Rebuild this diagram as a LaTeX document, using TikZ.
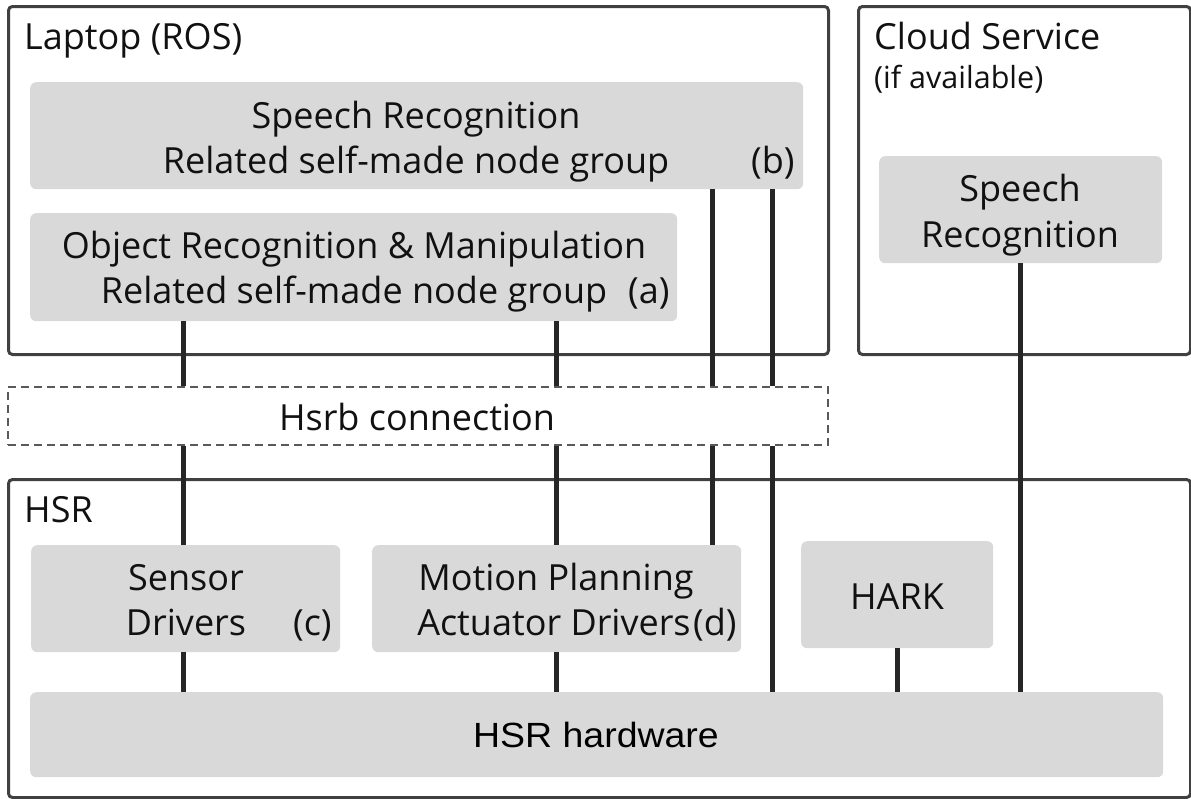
\documentclass[tikz,border=0pt]{standalone}
\usepackage{fontspec}
\setmainfont{Open Sans}
\newfontfamily\arialf{Liberation Sans}
\definecolor{boxfill}{HTML}{D9D9D9}
\definecolor{outline}{HTML}{404040}
\definecolor{conncol}{HTML}{262626}
\definecolor{dashcol}{HTML}{595959}
\definecolor{textcol}{HTML}{111111}
\begin{document}
\begin{tikzpicture}[x=1pt,y=-1pt,
  outer/.style={draw=outline, line width=3pt, rounded corners=4pt, inner sep=0pt, anchor=north west},
  gbox/.style={fill=boxfill, rounded corners=6pt, inner sep=0pt, anchor=north west},
  conn/.style={draw=conncol, line width=5pt},
  txt/.style={anchor=base, inner sep=0pt, text=textcol, font=\fontsize{36}{42}\selectfont},
  ltxt/.style={txt, anchor=base west},
  stxt/.style={anchor=base west, inner sep=0pt, text=textcol, font=\fontsize{30.5}{34}\selectfont}]
\useasboundingbox (0,0) rectangle (1191,798);
% outer containers
\node[outer, minimum width=820, minimum height=348] (laptop) at (7,5) {};
\node[outer, minimum width=332, minimum height=348] (cloud) at (857,5) {};
\node[draw=dashcol, line width=2pt, dash pattern=on 8pt off 5pt, inner sep=0pt, anchor=north west,
      minimum width=820, minimum height=58] (hsrb) at (7,386) {};
\node[outer, minimum width=1182, minimum height=318] (hsr) at (7,478) {};
% grey boxes
\node[gbox, minimum width=773, minimum height=107] (srb) at (30,82) {};
\node[gbox, minimum width=647, minimum height=108] (ora) at (30,213) {};
\node[gbox, minimum width=283, minimum height=107] (csr) at (879,156) {};
\node[gbox, minimum width=309, minimum height=107] (sensor) at (31,545) {};
\node[gbox, minimum width=369, minimum height=107] (motion) at (372,545) {};
\node[gbox, minimum width=192, minimum height=107] (hark) at (801,541) {};
\node[gbox, minimum width=1133, minimum height=85] (hw) at (30,692) {};
% texts
\node[ltxt] (tlaptop) at (24,49) {Laptop (ROS)};
\node[ltxt] (tcloud) at (874,49) {Cloud Service};
\node[stxt] (tavail) at (874,88) {(if available)};
\node[txt] (tsr1) at (416,128) {Speech Recognition};
\node[txt] (tsr2) at (416,173) {Related self-made node group};
\node[ltxt] (tb) at (751,173) {(b)};
\node[txt] (tor1) at (354,258) {Object Recognition \& Manipulation};
\node[txt] (tor2) at (354,303) {Related self-made node group};
\node[ltxt] (ta) at (628,303) {(a)};
\node[txt] (tcs1) at (1020,201) {Speech};
\node[txt] (tcs2) at (1020,247) {Recognition};
\node[txt] (thsrb) at (417,430) {Hsrb connection};
\node[ltxt] (thsr) at (24,522) {HSR};
\node[txt] (tse1) at (186,590) {Sensor};
\node[txt] (tse2) at (186,635) {Drivers};
\node[ltxt] (tc) at (293,635) {(c)};
\node[txt] (tmo1) at (556,590) {Motion Planning};
\node[txt] (tmo2) at (554,635) {Actuator Drivers};
\node[ltxt] (td) at (693,635) {(d)};
\node[txt] (thark) at (897,609) {HARK};
\node[anchor=base, inner sep=0pt, text=black, font=\arialf\fontsize{35}{42}\selectfont] (thw) at (596,747)
  {\scalebox{1.07}[1]{HSR hardware}};
% connector columns
\coordinate (c1) at (183,0);
\coordinate (c2) at (556,0);
\coordinate (c3) at (712,0);
\coordinate (c4) at (772,0);
% connectors
\draw[conn] (ora.south -| c1) -- (hsrb.north -| c1);
\draw[conn] (hsrb.south -| c1) -- (sensor.north -| c1);
\draw[conn] (sensor.south -| c1) -- (hw.north -| c1);
\draw[conn] (ora.south -| c2) -- (hsrb.north -| c2);
\draw[conn] (hsrb.south -| c2) -- (motion.north -| c2);
\draw[conn] (motion.south -| c2) -- (hw.north -| c2);
\draw[conn] (srb.south -| c3) -- (hsrb.north -| c3);
\draw[conn] (hsrb.south -| c3) -- (motion.north -| c3);
\draw[conn] (srb.south -| c4) -- (hsrb.north -| c4);
\draw[conn] (hsrb.south -| c4) -- (hw.north -| c4);
\draw[conn] (hark.south) -- (hw.north -| hark.south);
\draw[conn] (csr.south) -- (hw.north -| csr.south);
\end{tikzpicture}
\end{document}
